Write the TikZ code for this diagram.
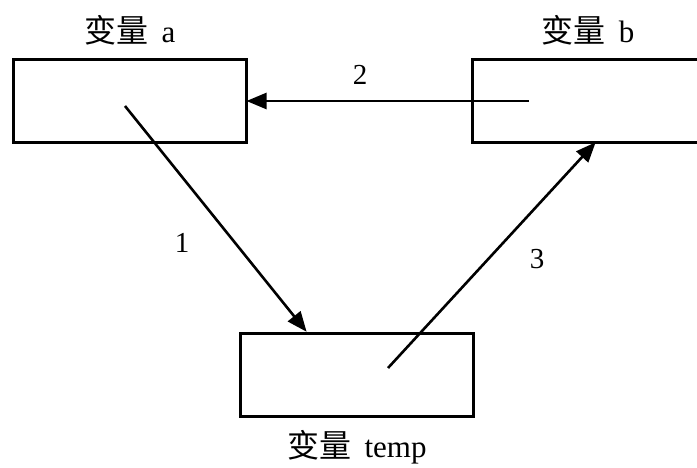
\documentclass[tikz,border=0pt]{standalone}
\usepackage{fontspec}
\setmainfont{Liberation Serif}
\newfontfamily\cjk{Noto Sans CJK SC}
\usetikzlibrary{arrows.meta}
\newcommand{\bl}{{\cjk\fontsize{32}{38}\selectfont 变量}\hspace{13pt}}
\tikzset{
  varbox/.style={draw=black, line width=3pt, minimum width=233pt, minimum height=83pt, inner sep=0pt},
  conn/.style={line width=2.6pt, -{Triangle[length=20pt,width=16pt]}, shorten >=-1pt},
  lbl/.style={font=\fontsize{31}{36}\selectfont, inner sep=0pt},
  num/.style={font=\fontsize{29}{34}\selectfont, inner sep=0pt},
}
\begin{document}
\begin{tikzpicture}[x=1pt,y=-1pt]
\useasboundingbox[fill=white] (0,0) rectangle (697,468);
\begin{scope}
\clip (0,0) rectangle (697,468);
\node[varbox] (a) at (129.5,101.5) {};
\node[varbox] (b) at (588.5,101.5) {};
\node[varbox] (t) at (356.5,374.5) {};
\end{scope}
\node[lbl] (la) at (130,30) {\bl a};
\node[lbl] (lb) at (588,30) {\bl b};
\node[lbl] (lt) at (357,447) {\bl temp};
\coordinate (s1) at (125,106);
\coordinate (e1) at (306,331);
\coordinate (s2) at (529,101);
\coordinate (s3) at (388,368);
\coordinate (e3) at (595,143);
\draw[conn] (s2) -- (a.east |- s2);
\draw[conn] (s1) -- (e1);
\draw[conn] (s3) -- (e3);
\node[num] (n2) at (360,75) {2};
\node[num] (n1) at (182,243) {1};
\node[num] (n3) at (537,259) {3};
\end{tikzpicture}
\end{document}
